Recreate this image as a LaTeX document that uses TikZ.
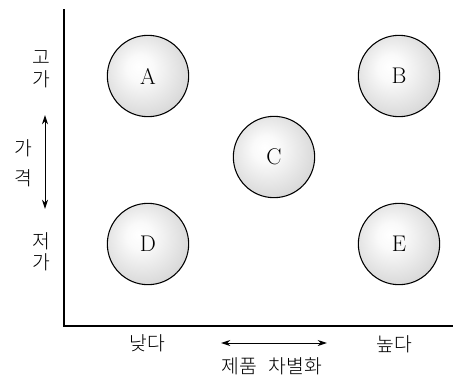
\documentclass[tikz,border=0pt]{standalone}
\usepackage{fontspec}
\newfontfamily\kr{Noto Sans CJK KR Light}
\usetikzlibrary{arrows.meta}
\pgfdeclareradialshading{orb}{\pgfpoint{-6bp}{6bp}}{%
  color(0bp)=(white); color(8bp)=(white!98!black); color(25bp)=(black!13); color(50bp)=(black!30)}
\tikzset{
  orb/.style={circle, draw=black, line width=0.8pt, minimum size=61pt, inner sep=0pt,
    shading=orb, font=\fontsize{17}{17}\selectfont},
  lab/.style={font=\kr\fontsize{14.5}{15}\selectfont, inner sep=0pt},
  ax/.style={line width=1.1pt},
  dbl/.style={line width=0.7pt, {Stealth[length=7pt,width=4.5pt]}-{Stealth[length=7pt,width=4.5pt]}}
}
\begin{document}
\begin{tikzpicture}[x=0.75pt,y=-0.75pt]
\useasboundingbox (0,0) rectangle (453,379);
\coordinate (top) at (64,9);
\coordinate (org) at (64,326);
\coordinate (right) at (453,326);
\draw[ax] (top) -- (org) -- (right);
\node[orb] (A) at (148,76) {A};
\node[orb] (B) at (399,76) {B};
\node[orb] (C) at (274,157) {C};
\node[orb] (D) at (148,244) {D};
\node[orb] (E) at (399,244) {E};
\node[lab] (go) at (41,58) {고};
\node[lab] (ga1) at (41,79) {가};
\node[lab] (ga2) at (23,148) {가};
\node[lab] (gyeok) at (23,178) {격};
\node[lab] (jeo) at (41,241) {저};
\node[lab] (ga3) at (41,262) {가};
\coordinate (vt) at (45,115);
\coordinate (vb) at (45,209);
\draw[dbl] (vt) -- (vb);
\node[lab] (low) at (147,343) {낮다};
\node[lab] (high) at (394,344) {높다};
\coordinate (hl) at (221,343);
\coordinate (hr) at (327,343);
\draw[dbl] (hl) -- (hr);
\node[lab] (diff) at (272,366) {제품\hspace{0.6em}차별화};
\end{tikzpicture}
\end{document}
